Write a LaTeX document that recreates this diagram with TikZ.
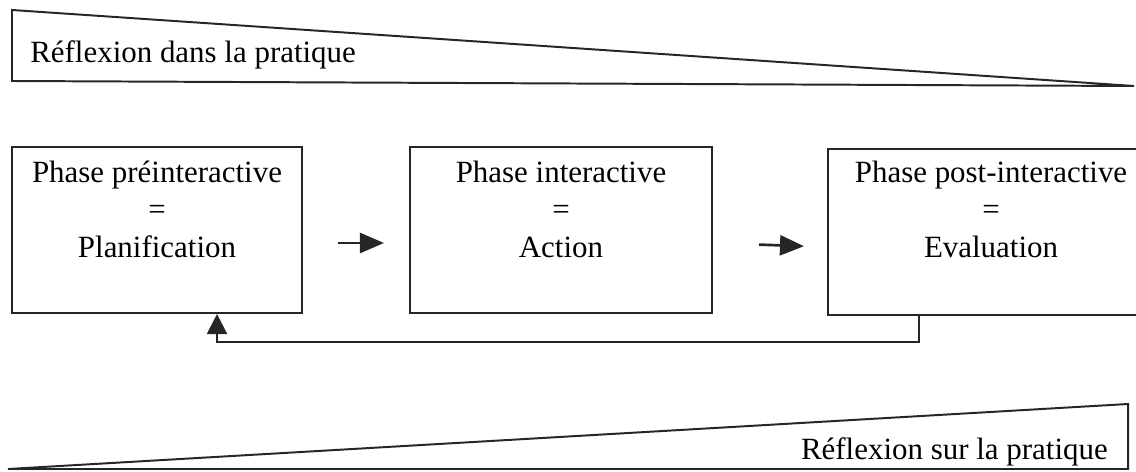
\documentclass[tikz,border=0pt]{standalone}
\usepackage{fontspec}
\setmainfont{Liberation Serif}
\usetikzlibrary{arrows.meta,positioning}

\tikzset{
  ink/.style={draw=black!85, line width=1.4pt},
  phase/.style={ink, minimum height=4.15cm, inner sep=0pt},
  phasetxt/.style={align=center, anchor=base, inner sep=0pt,
    font=\fontsize{22}{26.5}\selectfont},
  reflex/.style={inner sep=0pt, font=\fontsize{22}{26.5}\selectfont},
  next/.style={draw=black!85, line width=1.9pt,
    -{Triangle[length=0.6cm, width=0.5cm]}},
  back/.style={ink, -{Triangle[length=0.5cm, width=0.5cm]}}
}

\begin{document}
\begin{tikzpicture}[x=0.025cm, y=-0.025cm]
    \useasboundingbox (0,0) rectangle (1136,472);
    \clip (0,0) rectangle (1136,472);

    % top wedge
    \draw[ink, line join=miter] (12,10) -- (12,81) -- (1134,86) -- cycle;
    \node[reflex, anchor=base west] (dans) at (30,63) {Réflexion dans la pratique};

    % phases
    \node[phase, minimum width=7.25cm] (b1) at (157,230) {};
    \node[phase, minimum width=7.55cm] (b2) at (561,230) {};
    \node[phase, minimum width=8.15cm] (b3) at (991,232) {};
    \node[phasetxt] (t1) at (157,257) {Phase préinteractive\\=\\Planification};
    \node[phasetxt] (t2) at (561,257) {Phase interactive\\=\\Action};
    \node[phasetxt] (t3) at (991,257) {Phase post-interactive\\=\\Evaluation};

    \draw[next, shorten <=0.875cm, shorten >=0.625cm]
      ([yshift=-0.325cm]b1.east) -- ([yshift=-0.325cm]b2.west);
    \draw[next, shorten <=1.15cm, shorten >=0.575cm]
      ([yshift=-0.325cm]b2.east) -- ([yshift=-0.375cm]b3.west);

    % feedback
    \draw[back] ([xshift=-1.8cm]b3.south) -- ++(0,26) -| ([xshift=1.5cm]b1.south);

    % bottom wedge
    \draw[ink, line join=miter] (8,469) -- (1128,404) -- (1128,469) -- cycle;
    \node[reflex, anchor=base east] (sur) at (1108,459) {Réflexion sur la pratique};
\end{tikzpicture}
\end{document}
